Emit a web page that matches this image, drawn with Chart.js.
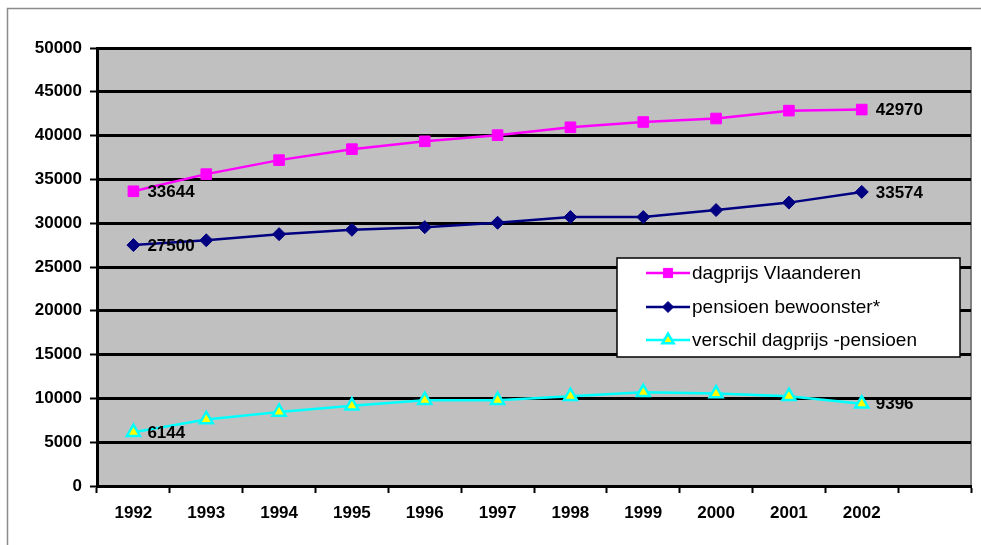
<!DOCTYPE html>
<html>
<head>
<meta charset="utf-8">
<script src="https://cdn.jsdelivr.net/npm/chart.js@4/dist/chart.umd.min.js"></script>
<style>
  html, body { margin: 0; padding: 0; background: #fff; }
  #wrap { width: 981px; height: 545px; }
</style>
</head>
<body>
<div id="wrap"><canvas id="chart" width="981" height="545"></canvas></div>
<script>
// jaren (laatste vak is leeg in het origineel)
const years = ['1992', '1993', '1994', '1995', '1996', '1997', '1998', '1999', '2000', '2001', '2002', ''];
const dagprijs = [33644, 35600, 37200, 38450, 39350, 40050, 40950, 41550, 41950, 42850, 42970];
const pensioen = [27500, 28050, 28750, 29250, 29550, 30050, 30700, 30700, 31500, 32350, 33574];
const verschil = [6144, 7600, 8450, 9150, 9800, 9800, 10250, 10700, 10550, 10250, 9396];
const yTicks = [0, 5000, 10000, 15000, 20000, 25000, 30000, 35000, 40000, 45000, 50000];

const FONT = '"Liberation Sans", Arial, sans-serif';

// achtergrond, kader en grijs tekengebied
const backgroundPlugin = {
    id: 'background',
    beforeDraw(chart) {
        const ctx = chart.ctx;
        const a = chart.chartArea;
        ctx.save();
        ctx.fillStyle = '#ffffff';
        ctx.fillRect(0, 0, chart.width, chart.height);
        ctx.strokeStyle = '#8c8c8c';
        ctx.lineWidth = 1.5;
        ctx.strokeRect(7.5, 8.5, chart.width + 20, chart.height + 20);
        ctx.fillStyle = '#c0c0c0';
        ctx.fillRect(a.left, a.top, a.right - a.left, a.bottom - a.top);
        ctx.strokeStyle = '#808080';
        ctx.lineWidth = 2;
        ctx.beginPath();
        ctx.moveTo(a.left, a.top);
        ctx.lineTo(a.right, a.top);
        ctx.lineTo(a.right, a.bottom);
        ctx.stroke();
        ctx.restore();
    }
};

// waarden bij eerste en laatste punt
const endLabelsPlugin = {
    id: 'endLabels',
    afterDatasetsDraw(chart) {
        const ctx = chart.ctx;
        ctx.save();
        ctx.font = 'bold 17px ' + FONT;
        ctx.fillStyle = '#000';
        ctx.textBaseline = 'middle';
        ctx.textAlign = 'left';
        chart.data.datasets.forEach((ds, i) => {
            const meta = chart.getDatasetMeta(i);
            const last = ds.data.length - 1;
            [0, last].forEach(idx => {
                const pt = meta.data[idx];
                ctx.fillText(String(ds.data[idx]), pt.x + 14, pt.y + 1);
            });
        });
        ctx.restore();
    }
};

// legenda in het tekengebied
const legendBoxPlugin = {
    id: 'legendBox',
    afterDraw(chart) {
        const ctx = chart.ctx;
        const x0 = 617, y0 = 258, w = 343, h = 99;
        ctx.save();
        ctx.fillStyle = '#ffffff';
        ctx.fillRect(x0, y0, w, h);
        ctx.strokeStyle = '#000';
        ctx.lineWidth = 1.5;
        ctx.strokeRect(x0, y0, w, h);
        ctx.font = '19px ' + FONT;
        ctx.textBaseline = 'middle';
        const rows = [273, 307, 340];
        chart.data.datasets.forEach((ds, i) => {
            const y = rows[i];
            ctx.strokeStyle = ds.borderColor;
            ctx.lineWidth = 2.5;
            ctx.beginPath();
            ctx.moveTo(646, y);
            ctx.lineTo(690, y);
            ctx.stroke();
            ctx.fillStyle = ds.pointBackgroundColor;
            ctx.strokeStyle = ds.pointBorderColor;
            ctx.lineWidth = ds.pointBorderWidth;
            Chart.helpers.drawPoint(ctx, {
                pointStyle: ds.pointStyle,
                radius: ds.pointRadius - 1,
                borderWidth: ds.pointBorderWidth,
                rotation: 0
            }, 668, y);
            ctx.fillStyle = '#000';
            ctx.fillText(ds.label, 692, y + 1);
        });
        ctx.restore();
    }
};

const ctx = document.getElementById('chart').getContext('2d');
const chart = new Chart(ctx, {
    type: 'line',
    data: {
        labels: years,
        datasets: [
            {
                label: 'dagprijs Vlaanderen',
                data: dagprijs,
                borderColor: '#ff00ff',
                backgroundColor: '#ff00ff',
                borderWidth: 2.5,
                pointStyle: 'rect',
                pointRadius: 7.5,
                pointBackgroundColor: '#ff00ff',
                pointBorderColor: '#ff00ff',
                pointBorderWidth: 1
            },
            {
                label: 'pensioen bewoonster*',
                data: pensioen,
                borderColor: '#000080',
                backgroundColor: '#000080',
                borderWidth: 2.5,
                pointStyle: 'rectRot',
                pointRadius: 6.5,
                pointBackgroundColor: '#000080',
                pointBorderColor: '#000080',
                pointBorderWidth: 1
            },
            {
                label: 'verschil dagprijs -pensioen',
                data: verschil,
                borderColor: '#00ffff',
                backgroundColor: '#00ffff',
                borderWidth: 2.5,
                pointStyle: 'triangle',
                pointRadius: 7.5,
                pointBackgroundColor: '#ffff00',
                pointBorderColor: '#00ffff',
                pointBorderWidth: 2.5
            }
        ]
    },
    options: {
        responsive: false,
        animation: false,
        layout: { padding: { top: 48, right: 0, left: 0, bottom: 0 } },
        plugins: {
            legend: { display: false },
            tooltip: { enabled: false }
        },
        scales: {
            x: {
                offset: true,
                afterFit(axis) { axis.height = 59; },
                grid: {
                    offset: true,
                    drawOnChartArea: false,
                    drawTicks: true,
                    tickLength: 7,
                    tickWidth: 2,
                    tickColor: '#000'
                },
                border: { color: '#000', width: 3 },
                ticks: {
                    color: '#000',
                    font: { family: FONT, size: 17, weight: 'bold' },
                    padding: 10,
                    maxRotation: 0,
                    autoSkip: false
                }
            },
            y: {
                min: 0,
                max: 50000,
                afterFit(axis) { axis.width = 97; },
                afterBuildTicks(axis) { axis.ticks = yTicks.map(v => ({ value: v })); },
                grid: {
                    color: '#000',
                    lineWidth: 3,
                    tickLength: 7,
                    tickColor: '#000',
                    tickWidth: 2
                },
                border: { color: '#000', width: 3 },
                ticks: {
                    color: '#000',
                    font: { family: FONT, size: 17, weight: 'bold' },
                    padding: 8,
                    callback: v => String(v)
                }
            }
        }
    },
    plugins: [backgroundPlugin, endLabelsPlugin, legendBoxPlugin]
});
</script>
</body>
</html>
